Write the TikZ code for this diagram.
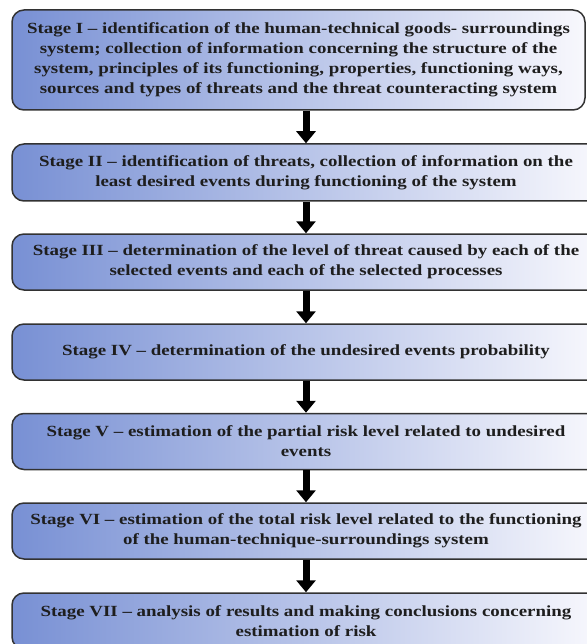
\documentclass[tikz,border=0pt]{standalone}
\usepackage{fontspec}
\setmainfont{Liberation Serif}[FakeStretch=1.22]
\usetikzlibrary{arrows.meta}
\definecolor{boxblue}{RGB}{120,144,212}
\definecolor{boxwhite}{RGB}{248,248,253}
\definecolor{boxline}{RGB}{50,50,50}
\definecolor{txt}{RGB}{30,30,30}
\begin{document}
\begin{tikzpicture}[x=1pt,y=1pt,
  stagebox/.style={draw=boxline, line width=1.5pt, rounded corners=12pt,
    left color=boxblue, right color=boxwhite, inner sep=0pt,
    align=center, text=txt, font=\bfseries\fontsize{15.5}{20}\selectfont},
  arr/.style={line width=7pt, draw=black, -{Triangle[width=19pt,length=12pt]}}]
\useasboundingbox (0,0) rectangle (586,-644);
\node[stagebox, minimum width=573, minimum height=100] (b1) at (298.5,-60)
  {Stage I -- identification of the human-technical goods- surroundings\\
   system; collection of information concerning the structure of the\\
   system, principles of its functioning, properties, functioning ways,\\
   sources and types of threats and the threat counteracting system};
\node[stagebox, minimum width=588, minimum height=57] (b2) at (306,-172.5)
  {Stage II -- identification of threats, collection of information on the\\
   least desired events during functioning of the system};
\node[stagebox, minimum width=588, minimum height=56] (b3) at (306,-262)
  {Stage III -- determination of the level of threat caused by each of the\\
   selected events and each of the selected processes};
\node[stagebox, minimum width=588, minimum height=56] (b4) at (306,-352)
  {Stage IV -- determination of the undesired events probability};
\node[stagebox, minimum width=588, minimum height=56] (b5) at (306,-441.5)
  {Stage V -- estimation of the partial risk level related to undesired\\
   events};
\node[stagebox, minimum width=588, minimum height=56] (b6) at (306,-531)
  {Stage VI -- estimation of the total risk level related to the functioning\\
   of the human-technique-surroundings system};
\node[stagebox, minimum width=588, minimum height=56] (b7) at (306,-621)
  {Stage VII -- analysis of results and making conclusions concerning\\
   estimation of risk};
\draw[arr] (b1.south -| b2.north) -- (b2.north);
\draw[arr] (b2.south) -- (b3.north);
\draw[arr] (b3.south) -- (b4.north);
\draw[arr] (b4.south) -- (b5.north);
\draw[arr] (b5.south) -- (b6.north);
\draw[arr] (b6.south) -- (b7.north);
\end{tikzpicture}
\end{document}
